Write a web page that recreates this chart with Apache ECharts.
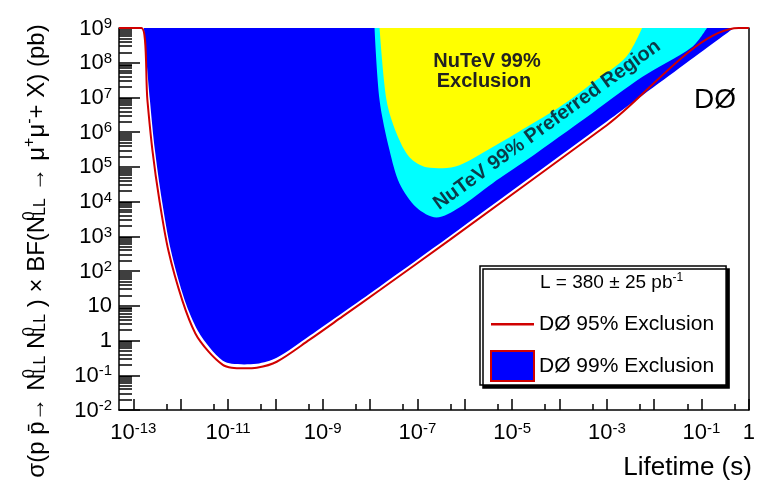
<!DOCTYPE html>
<html><head><meta charset="utf-8">
<script src="https://cdn.jsdelivr.net/npm/echarts@6/dist/echarts.min.js"></script>
<style>html,body{margin:0;padding:0;background:#fff}#c{width:758px;height:487px}</style>
</head><body><div id="c"></div>
<script>
// ---- data (lifetime in s, cross-section x BF in pb) ----
const d0_99_lifetime = [1.68e-13, 2.25e-13, 2.87e-13, 4.03e-13, 6.24e-13, 1.23e-12, 2.31e-12, 4.14e-12, 7.78e-12, 1.2e-11, 2.2e-11, 4.06e-11, 1.07e-10, 5.31e-10, 2.64e-9, 1.59e-8, 4.74e-7, 1e-3, 0.483];
const d0_99_sigma    = [1e9, 8.34e6, 3.0e5, 1.08e4, 390, 14.1, 1.91, 0.62, 0.26, 0.213, 0.205, 0.213, 0.318, 1.37, 6.33, 35.6, 989, 2.02e6, 1e9];
const d0_95_lifetime = [5e-14, 1.49e-13, 1.99e-13, 2.54e-13, 3.57e-13, 5.52e-13, 1.09e-12, 2.05e-12, 3.9e-12, 7.78e-12, 1.2e-11, 2.2e-11, 4.06e-11, 1.07e-10, 5.31e-10, 2.64e-9, 1.59e-8, 4.74e-7, 1e-3, 0.61, 1];
const d0_95_sigma    = [1e9, 1e9, 8.34e6, 3.0e5, 1.08e4, 390, 14.1, 1.6, 0.48, 0.2, 0.165, 0.158, 0.165, 0.245, 1.06, 4.95, 28, 780, 1.59e6, 1e9, 1e9];
const nutevPref_lifetime = [1.245e-8, 1.59e-8, 2.58e-8, 4.19e-8, 9.57e-8, 2.52e-7, 7.71e-7, 3.83e-6, 1.99e-5, 4.91e-4, 5.56e-3, 6.3e-2, 0.13];
const nutevPref_sigma    = [1e9, 8.34e6, 3.0e5, 3.35e4, 6.81e3, 3.5e3, 6.81e3, 3.35e4, 1.55e5, 3.52e6, 3.85e7, 2.82e8, 1e9];
const nutevExcl_lifetime = [1.59e-8, 2.23e-8, 3.62e-8, 6.81e-8, 1.55e-7, 3.38e-7, 7.71e-7, 3.83e-6, 1.99e-5, 9.89e-5, 4.91e-4, 2.55e-3, 5.56e-3];
const nutevExcl_sigma    = [1e9, 8.34e6, 9.31e5, 1.89e5, 9.7e4, 9.08e4, 1.11e5, 3.67e5, 1.39e6, 5.24e6, 2.58e7, 1.46e8, 1e9];

// ---- axes / ticks ----
const xMin = 5e-14, xMax = 1;
const yMin = 1e-2, yMax = 1e9;
const xMajorTicks = [1e-13,1e-12,1e-11,1e-10,1e-9,1e-8,1e-7,1e-6,1e-5,1e-4,1e-3,1e-2,1e-1,1];
const xLabelValues = [1e-13,1e-11,1e-9,1e-7,1e-5,1e-3,1e-1,1];
const xMinorTicks = [5e-13,5e-12,5e-11,5e-10,5e-9,5e-8,5e-7,5e-6,5e-5,5e-4,5e-3,5e-2,5e-1];
const yMajorTicks = [1e-2,1e-1,1,10,1e2,1e3,1e4,1e5,1e6,1e7,1e8,1e9];
const yMinorMultipliers = [2,3,4,5,6,7,8,9];
const yMinorTicks = [];
yMajorTicks.slice(0, -1).forEach(d => yMinorMultipliers.forEach(m => yMinorTicks.push(+(m * d).toPrecision(3))));

const legend95 = 'DØ 95% Exclusion';
const legend99 = 'DØ 99% Exclusion';
const lumiText = 'L = 380 ± 25 pb';

const pairs = (xs, ys) => xs.map((x, i) => [x, ys[i]]);
const FONT = "'Liberation Sans', Arial, sans-serif";

function powLabel(v) {
  const e = Math.round(Math.log10(v));
  if (e === 0) return '{b|1}';
  if (e === 1) return '{b|10}';
  return '{b|10}{s|' + e + '}';
}
const tickRich = {
  b: {fontSize: 22, fontFamily: FONT, color: '#000', verticalAlign: 'bottom', lineHeight: 23},
  s: {fontSize: 15, fontFamily: FONT, color: '#000', verticalAlign: 'top', lineHeight: 15, padding: [0, 0, 12, 0]}
};

const AX = '#000';
const chart = echarts.init(document.getElementById('c'), null, {renderer: 'canvas'});

const ySup = {fontSize: 16, fontFamily: FONT, color: '#000', verticalAlign: 'top', lineHeight: 16, padding: [0, 0, 15, 0]};
const yTitleRich = {
  n: {fontSize: 24, fontFamily: FONT, color: '#000', verticalAlign: 'bottom', lineHeight: 27},
  sp: Object.assign({}, ySup, {width: 0}),
  sb: {fontSize: 16, fontFamily: FONT, color: '#000', verticalAlign: 'bottom', lineHeight: 16, padding: [13, 0, 0, 0]},
  s: ySup
};
const yTitle = '{n|σ(p p\u0304→ N}{sp|0}{sb|LL}{n| N}{sp|0}{sb|LL}{n| ) × BF(N}{sp|0}{sb|LL}{n| → μ}{s|+}{n|μ}{s|-}{n|+ X) (pb)}';

// thin horizontal bar icon spanning the full legend icon box (tiny corner dots keep the box size)
const lineIcon = 'path://M0,14h43v2.4h-43z M0,0h0.01v0.01h-0.01z M42.99,29.99h0.01v0.01h-0.01z';

chart.setOption({
  animation: false,
  backgroundColor: '#fff',
  grid: {left: 119, top: 28, right: 8, bottom: 77, show: false},
  xAxis: [
    {
      type: 'log', logBase: 10, min: xMin, max: xMax, position: 'bottom',
      axisLine: {show: true, onZero: false, lineStyle: {color: AX, width: 1.5}},
      axisTick: {show: true, inside: true, length: 11, customValues: xMajorTicks, lineStyle: {color: AX, width: 1.5}},
      axisLabel: {show: true, customValues: xLabelValues, margin: 11, formatter: powLabel, rich: tickRich, showMinLabel: true, showMaxLabel: true},
      splitLine: {show: false},
      name: 'Lifetime (s)', nameLocation: 'end', nameGap: 3,
      nameTextStyle: {fontSize: 26, fontFamily: FONT, color: '#000', align: 'right', verticalAlign: 'top', padding: [45, 0, 0, 0]}
    },
    {
      type: 'log', logBase: 10, min: xMin, max: xMax, position: 'bottom',
      axisLine: {show: false},
      axisTick: {show: true, inside: true, length: 6, customValues: xMinorTicks, lineStyle: {color: AX, width: 1.5}},
      axisLabel: {show: false}, splitLine: {show: false}
    }
  ],
  yAxis: [
    {
      type: 'log', logBase: 10, min: yMin, max: yMax, position: 'left',
      axisLine: {show: true, onZero: false, lineStyle: {color: AX, width: 1.5}},
      axisTick: {show: true, inside: true, length: 21, customValues: yMajorTicks, lineStyle: {color: AX, width: 1.5}},
      axisLabel: {show: true, customValues: yMajorTicks, margin: 7, formatter: powLabel, rich: tickRich, showMinLabel: true, showMaxLabel: true},
      splitLine: {show: false},
      name: yTitle, nameLocation: 'middle', nameRotate: 90, nameGap: 70,
      nameTextStyle: {rich: yTitleRich, padding: [0, 64, 0, 0]}
    },
    {
      type: 'log', logBase: 10, min: yMin, max: yMax, position: 'left',
      axisLine: {show: false},
      axisTick: {show: true, inside: true, length: 13, customValues: yMinorTicks, lineStyle: {color: AX, width: 1.5}},
      axisLabel: {show: false}, splitLine: {show: false}
    },
    {
      type: 'log', logBase: 10, min: yMin, max: yMax, position: 'right',
      axisLine: {show: true, onZero: false, lineStyle: {color: AX, width: 1.5}},
      axisTick: {show: false}, axisLabel: {show: false}, splitLine: {show: false}
    }
  ],
  legend: {
    orient: 'vertical', left: 480, top: 266,
    padding: [43, 12, 3, 10], itemGap: 11, itemWidth: 43, itemHeight: 30,
    backgroundColor: '#fff', borderColor: '#000', borderWidth: 1.5,
    shadowColor: '#000', shadowBlur: 0, shadowOffsetX: 3, shadowOffsetY: 3,
    textStyle: {fontSize: 21, fontFamily: FONT, color: '#000'},
    selectedMode: false,
    data: [
      {name: legend95, icon: lineIcon, itemStyle: {color: '#d00000', borderWidth: 0}},
      {name: legend99, icon: 'rect', itemStyle: {color: '#0000ff', borderColor: '#d00000', borderWidth: 2}}
    ]
  },
  series: [
    {
      name: legend99, type: 'line', data: pairs(d0_99_lifetime, d0_99_sigma),
      symbol: 'none', smooth: 0.3, lineStyle: {width: 0, color: '#0000ff'}, itemStyle: {color: '#0000ff'},
      areaStyle: {color: '#0000ff', opacity: 1, origin: 'end'}, z: 2
    },
    {
      name: 'NuTeV 99% Preferred Region', type: 'line', data: pairs(nutevPref_lifetime, nutevPref_sigma),
      symbol: 'none', smooth: 0.3, lineStyle: {width: 0, color: '#00ffff'},
      areaStyle: {color: '#00ffff', opacity: 1, origin: 'end'}, z: 3
    },
    {
      name: 'NuTeV 99% Exclusion', type: 'line', data: pairs(nutevExcl_lifetime, nutevExcl_sigma),
      symbol: 'none', smooth: 0.3, lineStyle: {width: 0, color: '#ffff00'},
      areaStyle: {color: '#ffff00', opacity: 1, origin: 'end'}, z: 4
    },
    {
      name: legend95, type: 'line', data: pairs(d0_95_lifetime, d0_95_sigma),
      symbol: 'none', smooth: 0.3, lineStyle: {width: 2, color: '#d00000'}, itemStyle: {color: '#d00000'}, z: 5
    }
  ],
  graphic: [
    {type: 'text', x: 540, y: 282, z: 100, style: {text: '{b|' + lumiText + '}{s|-1}', verticalAlign: 'middle', rich: {
      b: {fontSize: 19, fontFamily: FONT, fill: '#000', verticalAlign: 'bottom', lineHeight: 20},
      s: {fontSize: 12, fontFamily: FONT, fill: '#000', verticalAlign: 'top', lineHeight: 12, padding: [0, 0, 10, 0]}
    }}},
    {type: 'text', x: 715, y: 100, z: 100, style: {text: 'DØ', font: "28px 'Liberation Sans', Arial, sans-serif", fill: '#000', align: 'center', verticalAlign: 'middle'}},
    {type: 'text', x: 487, y: 61, z: 100, style: {text: 'NuTeV 99%', font: "bold 20px 'Liberation Sans', Arial, sans-serif", fill: '#222', align: 'center', verticalAlign: 'middle'}},
    {type: 'text', x: 484, y: 81, z: 100, style: {text: 'Exclusion', font: "bold 20px 'Liberation Sans', Arial, sans-serif", fill: '#222', align: 'center', verticalAlign: 'middle'}},
    {type: 'text', x: 547, y: 125, rotation: 36 * Math.PI / 180, z: 100, style: {text: 'NuTeV 99% Preferred Region', font: "bold 20px 'Liberation Sans', Arial, sans-serif", fill: '#0b3a48', align: 'center', verticalAlign: 'middle'}}
  ]
});
</script></body></html>
